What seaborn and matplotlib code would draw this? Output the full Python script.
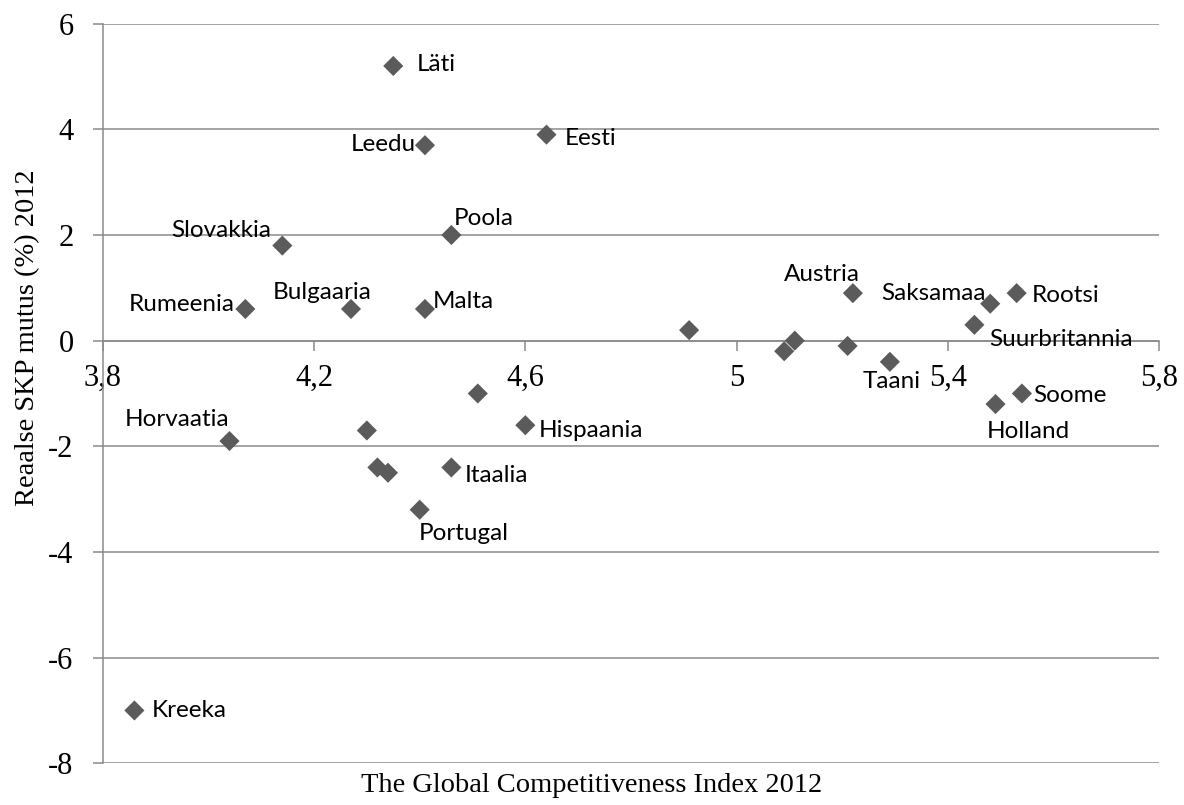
import matplotlib
matplotlib.use("Agg")
import matplotlib.pyplot as plt
import seaborn as sns
import pandas as pd

# Global Competitiveness Index 2012 vs. real GDP change 2012 (%)
gci = [4.35, 4.41, 4.64, 4.46, 4.14, 4.07, 4.27, 4.41, 4.91, 5.09, 5.11,
       5.22, 5.21, 5.29, 5.48, 5.53, 5.45, 5.54, 5.49, 4.04, 4.30, 4.51,
       4.60, 4.32, 4.34, 4.46, 4.40, 3.86]
gdp = [5.2, 3.7, 3.9, 2.0, 1.8, 0.6, 0.6, 0.6, 0.2, -0.2, 0.0,
       0.9, -0.1, -0.4, 0.7, 0.9, 0.3, -1.0, -1.2, -1.9, -1.7, -1.0,
       -1.6, -2.4, -2.5, -2.4, -3.2, -7.0]
countries = ["Läti", "Leedu", "Eesti", "Poola", "Slovakkia", "Rumeenia",
             "Bulgaaria", "Malta", "", "", "", "Austria", "", "Taani",
             "Saksamaa", "Rootsi", "Suurbritannia", "Soome", "Holland",
             "Horvaatia", "", "", "Hispaania", "", "", "Itaalia",
             "Portugal", "Kreeka"]

x_ticks = [3.8, 4.2, 4.6, 5.0, 5.4, 5.8]
x_tick_labels = ["3,8", "4,2", "4,6", "5", "5,4", "5,8"]
y_ticks = [6, 4, 2, 0, -2, -4, -6, -8]
y_tick_labels = ["6", "4", "2", "0", "-2", "-4", "-6", "-8"]

x_title = "The Global Competitiveness Index 2012"
y_title = "Reaalse SKP mutus (%) 2012"

# label placement: (ha, dx px, dy px)
label_pos = {
    "Läti": ("left", 23, 1), "Leedu": ("right", -9, 1),
    "Eesti": ("left", 18, -4), "Poola": ("left", 2, 17),
    "Slovakkia": ("right", -11, 15), "Rumeenia": ("right", -11, 4),
    "Bulgaaria": ("center", -29, 16), "Malta": ("left", 8, 7),
    "Austria": ("center", -31, 19), "Taani": ("center", 2, -20),
    "Saksamaa": ("right", -5, 10), "Rootsi": ("left", 15, -2),
    "Suurbritannia": ("left", 15, -15), "Soome": ("left", 11, -2),
    "Holland": ("center", 33, -27), "Horvaatia": ("right", 0, 22),
    "Hispaania": ("left", 13, -5), "Itaalia": ("left", 13, -8),
    "Portugal": ("center", 44, -24), "Kreeka": ("left", 17, 0),
}

df = pd.DataFrame({"gci": gci, "gdp": gdp, "country": countries})

sns.set_theme(style="white")
plt.rcParams["font.family"] = ["Liberation Serif", "DejaVu Serif"]

grid_col = "#8a8a8a"
fig = plt.figure(figsize=(11.84, 8.05), dpi=100)
ax = fig.add_axes([102.7 / 1184, 1 - 763.3 / 805, 1056.6 / 1184, 739.6 / 805])

for yv in y_ticks:
    ax.axhline(yv, color=grid_col, lw=1.1, zorder=0)

sns.scatterplot(data=df, x="gci", y="gdp", marker="D", s=105,
                color="#5b5b5b", edgecolor="none", ax=ax, zorder=3,
                legend=False)

for _, row in df.iterrows():
    if not row["country"]:
        continue
    ha, dx, dy = label_pos[row["country"]]
    ax.annotate(row["country"], (row["gci"], row["gdp"]),
                xytext=(dx, dy), textcoords="offset pixels",
                ha=ha, va="center", fontsize=17.5, color="black",
                family=["Lato", "DejaVu Sans"], zorder=4)

ax.set_xlim(3.8, 5.8)
ax.set_ylim(-8, 6)
ax.set_xticks(x_ticks)
ax.set_xticklabels(x_tick_labels)
ax.set_yticks(y_ticks)
ax.set_yticklabels(y_tick_labels)

for side in ["top", "right"]:
    ax.spines[side].set_visible(False)
ax.spines["bottom"].set_position(("data", 0))
ax.spines["bottom"].set_color(grid_col)
ax.spines["bottom"].set_linewidth(1.1)
ax.spines["left"].set_color(grid_col)
ax.spines["left"].set_linewidth(1.1)
ax.spines["bottom"].set_zorder(1)
ax.spines["left"].set_zorder(1)

ax.tick_params(axis="x", direction="out", length=7, width=1.1,
               color=grid_col, pad=10, labelsize=22, labelcolor="black",
               bottom=True)
ax.tick_params(axis="y", direction="out", length=7, width=1.1,
               color=grid_col, pad=14, labelsize=22, labelcolor="black",
               left=True)
ax.grid(False)

ax.set_xlabel("")
ax.set_ylabel("")
fig.text(592 / 1184, 1 - 785 / 805, x_title, ha="center", va="center",
         fontsize=20.5, color="black")
fig.text(28 / 1184, 1 - 338 / 805, y_title, ha="center", va="center",
         rotation=90, fontsize=20.5, color="black")

fig.savefig("out.png", dpi=100, facecolor="white")
